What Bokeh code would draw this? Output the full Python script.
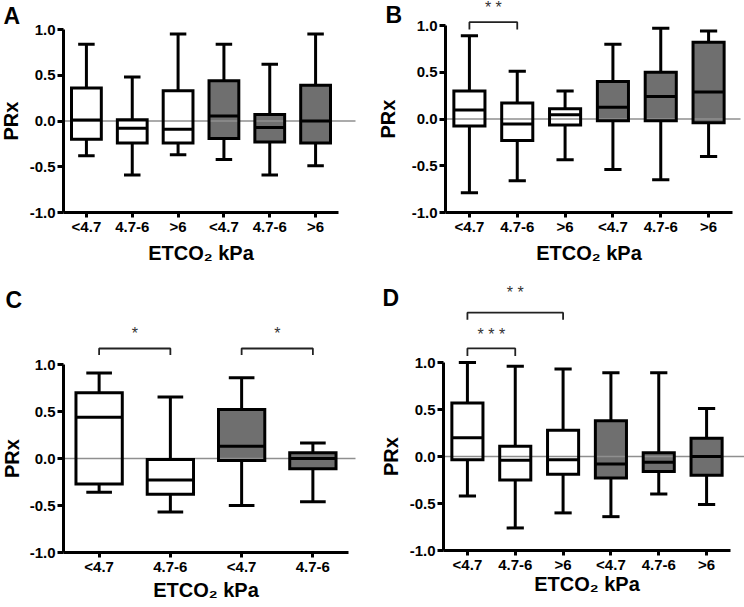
from bokeh.plotting import figure
from bokeh.layouts import row, column
from bokeh.models import ColumnDataSource, FixedTicker, Range1d, PrintfTickFormatter
from bokeh.embed import file_html
from bokeh.resources import INLINE
from bokeh.core.properties import value

FONT = "Liberation Sans"

# ---------------- data ----------------
A_labels = ["<4.7", "4.7-6", ">6", "<4.7", "4.7-6", ">6"]
A_group = [0, 0, 0, 1, 1, 1]
A_hi = [0.84, 0.48, 0.95, 0.84, 0.62, 0.95]
A_q3 = [0.36, 0.015, 0.33, 0.44, 0.07, 0.39]
A_med = [0.01, -0.08, -0.09, 0.055, -0.07, 0.0]
A_q1 = [-0.20, -0.24, -0.24, -0.19, -0.23, -0.24]
A_lo = [-0.38, -0.59, -0.37, -0.42, -0.59, -0.49]

B_labels = ["<4.7", "4.7-6", ">6", "<4.7", "4.7-6", ">6"]
B_group = [0, 0, 0, 1, 1, 1]
B_hi = [0.89, 0.51, 0.30, 0.80, 0.97, 0.94]
B_q3 = [0.30, 0.17, 0.11, 0.40, 0.50, 0.82]
B_med = [0.096, -0.054, 0.046, 0.125, 0.24, 0.29]
B_q1 = [-0.075, -0.23, -0.064, -0.02, -0.02, -0.04]
B_lo = [-0.79, -0.66, -0.435, -0.54, -0.65, -0.40]

C_labels = ["<4.7", "4.7-6", "<4.7", "4.7-6"]
C_group = [0, 0, 1, 1]
C_hi = [0.91, 0.655, 0.86, 0.166]
C_q3 = [0.70, -0.01, 0.52, 0.06]
C_med = [0.44, -0.23, 0.13, 0.0]
C_q1 = [-0.27, -0.38, -0.02, -0.11]
C_lo = [-0.36, -0.57, -0.50, -0.46]

D_labels = ["<4.7", "4.7-6", ">6", "<4.7", "4.7-6", ">6"]
D_group = [0, 0, 0, 1, 1, 1]
D_hi = [1.0, 0.96, 0.93, 0.89, 0.89, 0.51]
D_q3 = [0.57, 0.11, 0.28, 0.38, 0.04, 0.195]
D_med = [0.20, -0.04, -0.035, -0.08, -0.06, 0.0]
D_q1 = [-0.035, -0.25, -0.19, -0.23, -0.16, -0.20]
D_lo = [-0.42, -0.76, -0.60, -0.64, -0.40, -0.51]

# significance brackets: (from category, to category, stars)
B_sig = [(1, 2, "* *")]
C_sig = [(1, 2, "*"), (3, 4, "*")]
D_sig = [(1, 2, "* * *"), (1, 3, "* *")]

Y_TICKS = [-1.0, -0.5, 0.0, 0.5, 1.0]
X_TITLE = "ETCO\u2082 kPa"
Y_TITLE = "PRx"

# ---------------- layout / style ----------------
FILLS = ["#ffffff", "#6f6f6f"]
BOX_W = 0.65
CAP_W = 0.36

# bracket layout per panel: (bar y, drop y, star y) in data units
B_br = [(1.036, 0.957, 1.19)]
C_br = [(1.17, 1.10, 1.33), (1.17, 1.10, 1.33)]
D_br = [(1.15, 1.07, 1.30), (1.53, 1.455, 1.75)]


def panel(letter, labels, group, hi, q3, med, q1, lo, sig, br, g):
    W, H = g["w"], g["h"]
    ax, axend, fr, y1, ym1 = g["ax"], g["axend"], g["fr"], g["y1"], g["ym1"]
    n = len(labels)
    ux = (axend - ax) / n
    uy = (ym1 - y1) / 2.0
    # the frame covers the whole figure; axes are pinned at x=0.5 and y=-1
    x0 = 0.5 - ax / ux
    x1 = 0.5 + (W - ax) / ux
    yb = -1.0 - (H - ym1) / uy
    yt = 1.0 + y1 / uy
    zero_end = 0.5 + (fr - ax) / ux

    p = figure(width=W, height=H, x_range=Range1d(x0, x1), y_range=Range1d(yb, yt),
               output_backend="svg", toolbar_location=None, title=None,
               min_border=0, min_border_left=0, min_border_right=0,
               min_border_top=0, min_border_bottom=0)
    p.outline_line_color = None
    p.background_fill_color = "white"
    p.border_fill_color = "white"
    p.xgrid.grid_line_color = None
    p.ygrid.grid_line_color = None

    xs = list(range(1, n + 1))
    src = ColumnDataSource(dict(
        x=xs,
        left=[x - BOX_W / 2 for x in xs], right=[x + BOX_W / 2 for x in xs],
        cl=[x - CAP_W / 2 for x in xs], cr=[x + CAP_W / 2 for x in xs],
        hi=hi, q3=q3, med=med, q1=q1, lo=lo,
        fill=[FILLS[k] for k in group],
    ))

    p.quad(left="left", right="right", top="q3", bottom="q1", fill_color="fill",
           line_alpha=0, source=src)
    p.segment(x0=[0.5], y0=[0.0], x1=[zero_end], y1=[0.0], line_color="#8f8f8f", line_width=1.3)
    p.quad(left="left", right="right", top="q3", bottom="q1", fill_alpha=0,
           line_color="black", line_width=3, line_join="miter", source=src)
    p.segment(x0="left", y0="med", x1="right", y1="med", line_color="black", line_width=3, source=src)
    p.segment(x0="x", y0="q3", x1="x", y1="hi", line_color="black", line_width=3, source=src)
    p.segment(x0="x", y0="q1", x1="x", y1="lo", line_color="black", line_width=3, source=src)
    p.segment(x0="cl", y0="hi", x1="cr", y1="hi", line_color="black", line_width=3, source=src)
    p.segment(x0="cl", y0="lo", x1="cr", y1="lo", line_color="black", line_width=3, source=src)

    for (a, b, stars), (ybar, ydrop, ys) in zip(sig, br):
        p.multi_line(xs=[[a, a, b, b]], ys=[[ydrop, ybar, ybar, ydrop]], line_color="#222222", line_width=1.8)
        p.text(x=[(a + b) / 2.0], y=[ys], text=[stars], text_align="center", text_baseline="middle",
               text_font=value(FONT), text_font_size="16px", text_color="#333333")

    for axis in (p.xaxis[0], p.yaxis[0]):
        axis.axis_line_width = 3
        axis.axis_line_color = "black"
        axis.major_tick_line_width = 3
        axis.major_tick_line_color = "black"
        axis.major_tick_in = 0
        axis.minor_tick_in = 0
        axis.minor_tick_out = 0
        axis.major_label_text_font = FONT
        axis.major_label_text_font_style = "bold"
        axis.major_label_text_font_size = "15px"
        axis.major_label_text_color = "black"
        axis.axis_label_text_font = FONT
        axis.axis_label_text_font_style = "bold"
        axis.axis_label_text_font_size = "20px"
        axis.axis_label_text_color = "black"

    xa = p.xaxis[0]
    xa.fixed_location = -1.0
    xa.ticker = FixedTicker(ticks=xs)
    xa.major_label_overrides = {x: lab for x, lab in zip(xs, labels)}
    xa.bounds = (0.5, n + 0.5)
    xa.major_tick_out = 5
    xa.major_label_standoff = 0
    xa.axis_label = X_TITLE
    xa.axis_label_standoff = g["xstand"]

    ya = p.yaxis[0]
    ya.fixed_location = 0.5
    ya.ticker = FixedTicker(ticks=Y_TICKS)
    ya.formatter = PrintfTickFormatter(format="%.1f")
    ya.bounds = (-1.0, 1.0)
    ya.major_tick_out = 6
    ya.major_label_standoff = 2
    ya.axis_label = Y_TITLE
    ya.axis_label_standoff = g["ystand"]

    # panel letter, placed in data units computed from its pixel spot
    p.text(x=[0.5 + (g["lx"] - ax) / ux], y=[1.0 + (y1 - g["ly"]) / uy], text=[letter],
           text_font=value(FONT), text_font_style="bold", text_font_size="23px",
           text_color="black", text_baseline="top", text_align="left")
    return p


gA = dict(w=372, h=280, ax=63, axend=338, fr=355, y1=29, ym1=212, xstand=4, ystand=5, lx=3, ly=2)
gB = dict(w=372, h=280, ax=73, axend=360, fr=368, y1=25, ym1=212, xstand=4, ystand=10, lx=13, ly=1)
gC = dict(w=372, h=327, ax=63, axend=348, fr=355, y1=84, ym1=272, xstand=1, ystand=4, lx=5, ly=6)
gD = dict(w=372, h=327, ax=71, axend=358, fr=372, y1=82, ym1=270, xstand=-3, ystand=5, lx=10, ly=4)

pA = panel("A", A_labels, A_group, A_hi, A_q3, A_med, A_q1, A_lo, [], [], gA)
pB = panel("B", B_labels, B_group, B_hi, B_q3, B_med, B_q1, B_lo, B_sig, B_br, gB)
pC = panel("C", C_labels, C_group, C_hi, C_q3, C_med, C_q1, C_lo, C_sig, C_br, gC)
pD = panel("D", D_labels, D_group, D_hi, D_q3, D_med, D_q1, D_lo, D_sig, D_br, gD)

layout = column(row(pA, pB), row(pC, pD))
open("out.html", "w").write(file_html(layout, INLINE))
